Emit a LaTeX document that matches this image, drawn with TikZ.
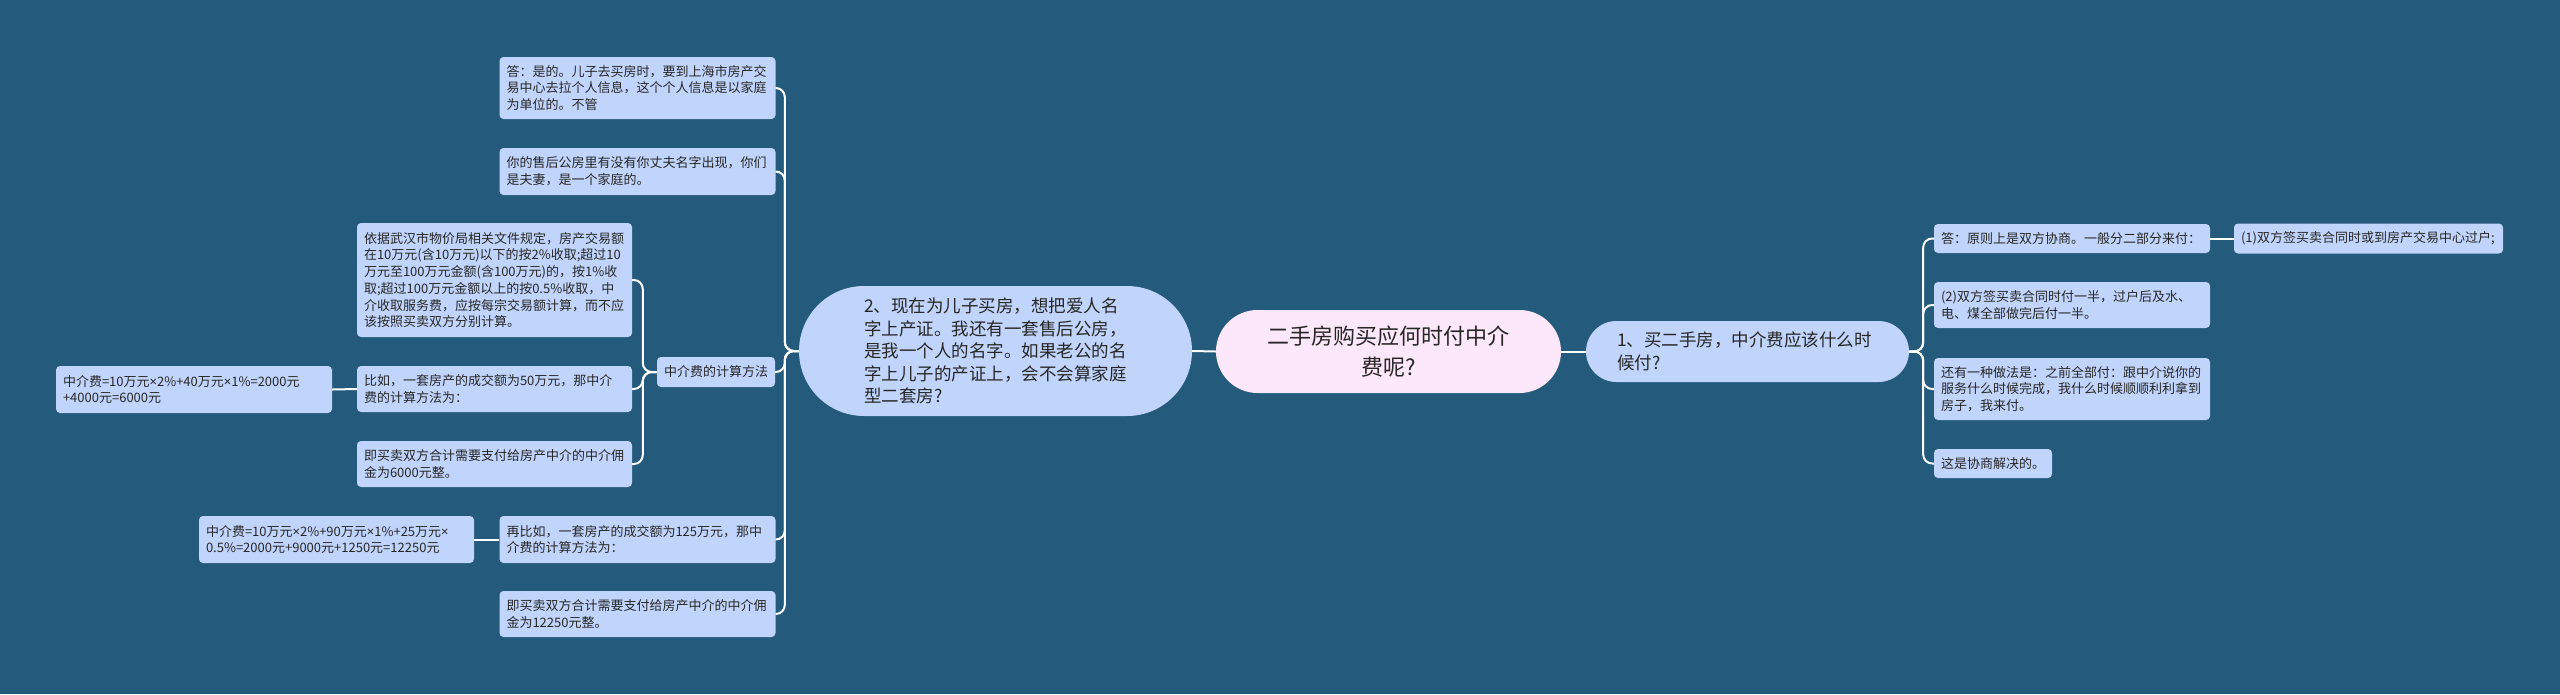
\documentclass[tikz,border=0pt]{standalone}
\usepackage{fontspec}
\setmainfont{Noto Sans CJK SC}
\newfontfamily\latinfont{Noto Sans}
\newcommand{\tms}{{\latinfont ×}}
\definecolor{bgblue}{HTML}{245A7B}
\definecolor{leafblue}{HTML}{C1D5FC}
\definecolor{rootpink}{HTML}{FDE7FA}
\definecolor{inkgray}{HTML}{262626}
\begin{document}
\begin{tikzpicture}[x=1pt,y=-1pt,
  leaf/.style={fill=leafblue,rounded corners=4pt,text=inkgray,inner xsep=7pt,inner ysep=0pt,align=left,text width=262pt,font=\fontsize{13}{16.7}\selectfont},
  topic/.style={fill=leafblue,text=inkgray,inner xsep=0pt,inner ysep=0pt,align=left,font=\fontsize{17.5}{22.5}\selectfont},
  link/.style={white,line width=2pt,rounded corners=9pt}]
\fill[bgblue] (0,0) rectangle (2560,694);

\node[fill=rootpink,text=black!85,rounded corners=41.5pt,minimum width=345pt,minimum height=83pt,align=center,font=\fontsize{22}{31}\selectfont] (root) at (1388.5,351.5) {二手房购买应何时付中介\\费呢?};

\node[topic,rounded corners=30.5pt,minimum height=61pt,text width=261pt,inner xsep=31pt] (pay) at (1747.5,351.5) {1、买二手房，中介费应该什么时\\候付?};
\node[topic,rounded corners=65pt,minimum height=130pt,text width=263pt,inner xsep=65pt] (son) at (995.5,351) {2、现在为儿子买房，想把爱人名\\字上产证。我还有一套售后公房，\\是我一个人的名字。如果老公的名\\字上儿子的产证上，会不会算家庭\\型二套房?};

\node[leaf,minimum height=29pt] (ans) at (2072,238.5) {答：原则上是双方协商。一般分二部分来付：};
\node[leaf,minimum height=30pt,text width=255pt] (first) at (2368.5,238.5) {(1)双方签买卖合同时或到房产交易中心过户;};
\node[leaf,minimum height=46pt] (second) at (2072,305) {(2)双方签买卖合同时付一半，过户后及水、\\电、煤全部做完后付一半。};
\node[leaf,minimum height=62pt] (other) at (2072,389) {还有一种做法是：之前全部付：跟中介说你的\\服务什么时候完成，我什么时候顺顺利利拿到\\房子，我来付。};
\node[leaf,minimum height=29pt,text width=104pt] (agree) at (1993,463.5) {这是协商解决的。};

\node[leaf,minimum height=62pt] (yes) at (637.5,88) {答：是的。儿子去买房时，要到上海市房产交\\易中心去拉个人信息，这个个人信息是以家庭\\为单位的。不管};
\node[leaf,minimum height=47pt] (spouse) at (637.5,171.5) {你的售后公房里有没有你丈夫名字出现，你们\\是夫妻，是一个家庭的。};
\node[leaf,minimum height=30pt,text width=104pt] (calc) at (716,372) {中介费的计算方法};
\node[leaf,minimum height=47pt] (caseb) at (637.5,539.5) {再比如，一套房产的成交额为125万元，那中\\介费的计算方法为：};
\node[leaf,minimum height=46pt] (totalb) at (637.5,614) {即买卖双方合计需要支付给房产中介的中介佣\\金为12250元整。};

\node[leaf,minimum height=114pt,text width=261pt] (rule) at (494.5,280) {依据武汉市物价局相关文件规定，房产交易额\\在10万元(含10万元)以下的按2\%收取;超过10\\万元至100万元金额(含100万元)的，按1\%收\\取;超过100万元金额以上的按0.5\%收取，中\\介收取服务费，应按每宗交易额计算，而不应\\该按照买卖双方分别计算。};
\node[leaf,minimum height=46pt,text width=261pt] (casea) at (494.5,389) {比如，一套房产的成交额为50万元，那中介\\费的计算方法为：};
\node[leaf,minimum height=46pt,text width=261pt] (totala) at (494.5,464) {即买卖双方合计需要支付给房产中介的中介佣\\金为6000元整。};

\node[leaf,minimum height=47pt] (feea) at (194,389.5) {中介费=10万元\tms2\%+40万元\tms1\%=2000元\\+4000元=6000元};
\node[leaf,minimum height=47pt,text width=261pt] (feeb) at (336.5,539.5) {中介费=10万元\tms2\%+90万元\tms1\%+25万元\tms\\0.5\%=2000元+9000元+1250元=12250元};

\draw[link] (root.east) -- (pay.west);
\draw[link] (root.west) -- (son.east);
\foreach \n in {ans,second,other,agree}
  \draw[link] (pay.east) -- ++(14,0) |- (\n.west);
\draw[link] (ans.east) -- (first.west);
\foreach \n in {yes,spouse,calc,caseb,totalb}
  \draw[link] (son.west) -- ++(-14,0) |- (\n.east);
\foreach \n in {rule,casea,totala}
  \draw[link] (calc.west) -- ++(-14,0) |- (\n.east);
\draw[link] (casea.west) -- (feea.east);
\draw[link] (caseb.west) -- (feeb.east);
\end{tikzpicture}
\end{document}
